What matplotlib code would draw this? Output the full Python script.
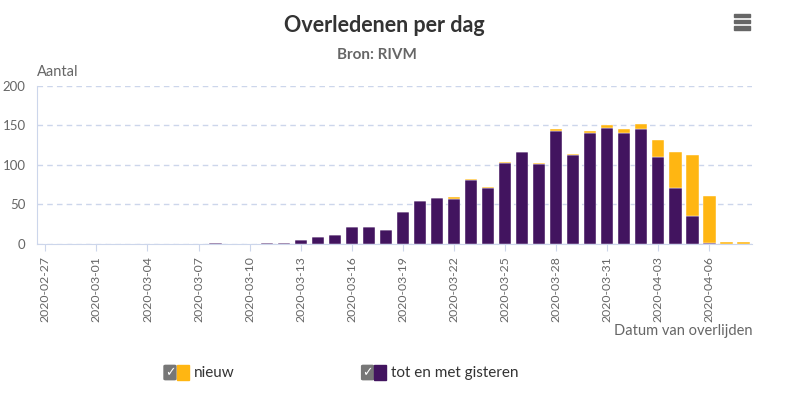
import pandas as pd
import matplotlib.pyplot as plt
from matplotlib.patches import Rectangle, FancyBboxPatch

# Overledenen per dag (RIVM)

dagen = pd.date_range('2020-02-27', '2020-04-08', freq='D')
gisteren = [0, 0, 0, 0, 0, 0, 0, 0, 0, 0,
            1, 0, 0, 1, 1, 5, 9, 11, 21, 21,
            18, 41, 54, 58, 57, 81, 71, 102, 116, 101,
            143, 112, 141, 147, 141, 146, 110, 71, 36, 1,
            0, 0]
nieuw = [0, 0, 0, 0, 0, 0, 0, 0, 0, 0,
         0, 0, 0, 0, 0, 0, 0, 0, 0, 0,
         0, 0, 0, 0, 2, 1, 1, 2, 0, 2,
         2, 2, 2, 3, 5, 6, 22, 46, 76, 60,
         3, 2]
tick_labels = [d.strftime('%Y-%m-%d') for d in dagen]

PAARS = '#42145f'
GEEL = '#ffb612'
GRIJS = '#666666'
LIJN = '#ccd6eb'

plt.rcParams['font.family'] = ['Lato', 'DejaVu Sans']

fig = plt.figure(figsize=(8, 3.98), dpi=100)
ax = fig.add_axes([0.046, 0.387, 0.894, 0.397])

x = list(range(len(dagen)))
ax.bar(x, gisteren, width=0.72, color=PAARS, edgecolor='white', linewidth=0.3, zorder=3)
ax.bar(x, nieuw, width=0.72, bottom=gisteren, color=GEEL, edgecolor='white',
       linewidth=0.3, zorder=3)

ax.set_xlim(-0.5, len(dagen) - 0.5)
ax.set_ylim(0, 200)
ax.set_yticks([0, 50, 100, 150, 200])
ax.yaxis.grid(True, linestyle=(0, (4, 3)), color=LIJN, linewidth=1)
ax.set_axisbelow(True)

ax.set_xticks(x[::3])
ax.set_xticklabels(tick_labels[::3], rotation=90)

for side in ['top', 'right']:
    ax.spines[side].set_visible(False)
ax.spines['left'].set_color(LIJN)
ax.spines['bottom'].set_color(LIJN)

ax.tick_params(axis='y', length=0, labelsize=9.5, labelcolor=GRIJS, pad=8)
ax.tick_params(axis='x', length=5, color=LIJN, labelsize=8.8, labelcolor=GRIJS, pad=4)

fig.text(0.481, 0.935, 'Overledenen per dag', ha='center', va='center',
         fontsize=15.5, fontweight='bold', color='#333333')
fig.text(0.471, 0.862, 'Bron: RIVM', ha='center', va='center',
         fontsize=11, fontweight='bold', color=GRIJS)
fig.text(0.046, 0.818, 'Aantal', ha='left', va='center', fontsize=10.5, color=GRIJS)
fig.text(0.94, 0.168, 'Datum van overlijden', ha='right', va='center',
         fontsize=10.5, color=GRIJS)

# menu icoon
for dy in [0, 0.016, 0.032]:
    fig.patches.append(Rectangle((0.918, 0.925 + dy), 0.02, 0.009,
                                 transform=fig.transFigure, color='#666666'))

# legenda
def legend_item(xpos, kleur, label):
    fig.patches.append(FancyBboxPatch((xpos, 0.046), 0.015, 0.036,
                                      boxstyle='round,pad=0,rounding_size=0.002',
                                      transform=fig.transFigure, color='#777777'))
    fig.text(xpos + 0.0075, 0.064, '✓', ha='center', va='center', fontsize=9,
             color='white', fontweight='bold', family='DejaVu Sans')
    fig.patches.append(Rectangle((xpos + 0.016, 0.046), 0.015, 0.036,
                                 transform=fig.transFigure, color=kleur))
    fig.text(xpos + 0.037, 0.063, label, ha='left', va='center',
             fontsize=11, color='#333333')

legend_item(0.205, GEEL, 'nieuw')
legend_item(0.452, PAARS, 'tot en met gisteren')

fig.savefig('out.png', dpi=100)
